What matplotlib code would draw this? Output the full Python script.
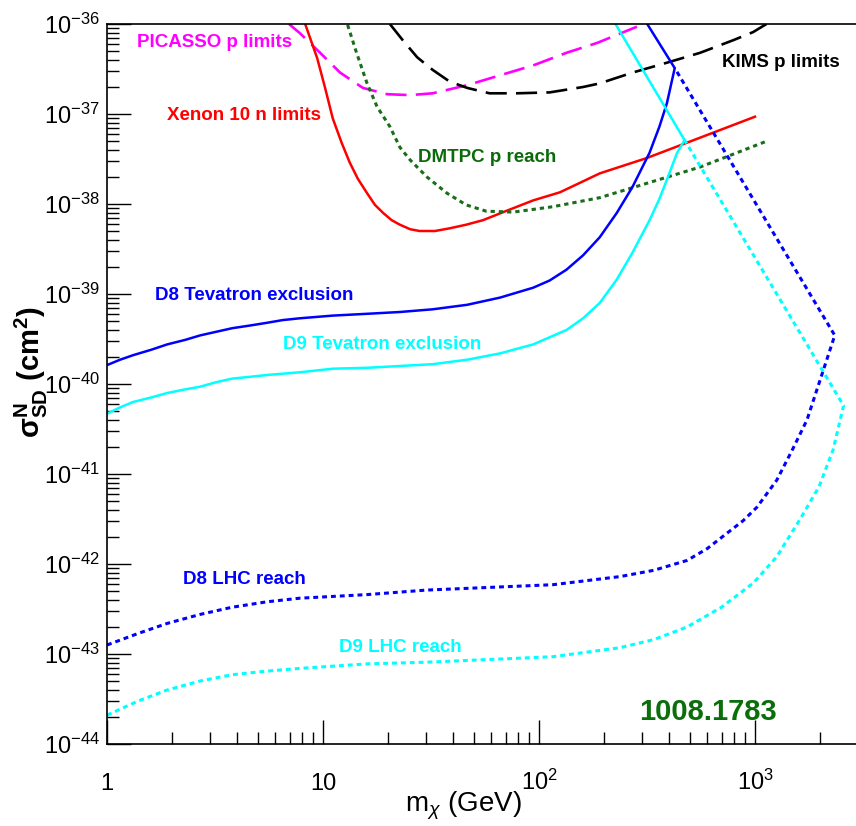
import numpy as np
import matplotlib
matplotlib.use("Agg")
import matplotlib.pyplot as plt
from matplotlib import font_manager
from matplotlib.ticker import FixedLocator, LogLocator, NullFormatter

# mass in GeV, cross sections stored as log10(sigma / cm^2)
picasso_m = [6.96, 7.8, 9.7, 12.0, 15.3, 19.8, 25.3, 32.2, 46.5, 66, 94, 134, 186, 284]
picasso_s = [-36.0, -36.1, -36.32, -36.54, -36.71, -36.78, -36.79, -36.77, -36.68, -36.57, -36.46, -36.32, -36.21, -36.03]

kims_m = [20.4, 23.4, 27.3, 32.2, 38.6, 46.5, 59, 79, 112, 160, 191, 271, 391, 557, 793, 980, 1130]
kims_s = [-36.0, -36.18, -36.37, -36.51, -36.64, -36.71, -36.77, -36.77, -36.76, -36.7, -36.66, -36.54, -36.43, -36.32, -36.18, -36.09, -36.0]

xenon_m = [8.27, 9.4, 10.2, 11.1, 12.2, 13.3, 14.5, 16, 17.4, 19, 20.8, 22.7, 25.3, 28, 33, 38.6, 46, 55, 70, 94, 125, 150, 191, 315, 1000]
xenon_s = [-36.0, -36.38, -36.7, -37.05, -37.32, -37.54, -37.72, -37.88, -38.01, -38.1, -38.18, -38.23, -38.28, -38.3, -38.3, -38.27, -38.23, -38.18, -38.08, -37.96, -37.87, -37.78, -37.66, -37.49, -37.03]

dmtpc_m = [13.0, 14.3, 16, 17.8, 20.4, 22.7, 25.3, 30.3, 37.5, 46, 57, 76, 116, 191, 556, 1110]
dmtpc_s = [-36.01, -36.32, -36.66, -36.92, -37.14, -37.37, -37.51, -37.7, -37.88, -38.01, -38.08, -38.09, -38.03, -37.93, -37.59, -37.31]

d8_tev_m = [1, 1.15, 1.32, 1.6, 1.9, 2.3, 2.7, 3.2, 3.8, 4.6, 5.5, 6.5, 7.8, 11.1, 16, 22.7, 32.2, 46.5, 66, 94, 112, 134, 160, 191, 229, 271, 325, 361, 391, 425, 317]
d8_tev_s = [-39.79, -39.73, -39.68, -39.62, -39.56, -39.51, -39.46, -39.42, -39.38, -39.35, -39.32, -39.29, -39.27, -39.24, -39.22, -39.2, -39.17, -39.12, -39.04, -38.93, -38.85, -38.73, -38.57, -38.37, -38.1, -37.81, -37.43, -37.14, -36.88, -36.49, -36.0]

d9_tev_m = [1, 1.15, 1.32, 1.6, 1.9, 2.3, 2.7, 3.2, 3.8, 4.6, 5.5, 7.8, 11.1, 16, 22.7, 32.2, 46.5, 66, 94, 134, 160, 191, 229, 271, 325, 360, 391, 436, 472, 226]
d9_tev_s = [-40.33, -40.26, -40.2, -40.15, -40.1, -40.06, -40.03, -39.98, -39.94, -39.92, -39.9, -39.87, -39.83, -39.82, -39.8, -39.78, -39.73, -39.66, -39.56, -39.4, -39.27, -39.1, -38.84, -38.54, -38.18, -37.95, -37.73, -37.43, -37.29, -36.0]

d8_lhc_m = [1, 1.4, 1.9, 2.7, 3.8, 5.5, 7.8, 16, 30, 116, 237, 340, 485, 600, 740, 880, 1020, 1260, 1490, 1740, 2050, 2340, 425]
d8_lhc_s = [-42.9, -42.77, -42.66, -42.56, -42.48, -42.42, -42.38, -42.34, -42.29, -42.23, -42.14, -42.07, -41.96, -41.83, -41.66, -41.52, -41.37, -41.07, -40.73, -40.4, -39.88, -39.46, -36.49]

d9_lhc_m = [1, 1.4, 1.9, 2.7, 3.8, 5.5, 7.8, 16, 31, 116, 237, 340, 485, 700, 984, 1260, 1610, 1980, 2300, 2570, 472]
d9_lhc_s = [-43.68, -43.52, -43.4, -43.3, -43.23, -43.19, -43.16, -43.11, -43.09, -43.03, -42.93, -42.84, -42.7, -42.48, -42.21, -41.92, -41.51, -41.14, -40.73, -40.24, -37.29]

y_decades = [-44, -43, -42, -41, -40, -39, -38, -37, -36]

names = {f.name for f in font_manager.fontManager.ttflist}
narrow = 'Liberation Sans Narrow' in names
base = 'Liberation Sans Narrow' if narrow else 'Liberation Sans'
plt.rcParams['font.family'] = [base, 'DejaVu Sans']
plt.rcParams['mathtext.fontset'] = 'custom'
plt.rcParams['mathtext.rm'] = base
plt.rcParams['mathtext.it'] = base + ':italic'
plt.rcParams['mathtext.bf'] = base + ':bold'
tick_fs = 21 if narrow else 17
lab_fs = 16.5 if narrow else 13.5

fig = plt.figure(figsize=(8.56, 8.26), dpi=100)
ax = fig.add_axes([107/856, 82/826, 749/856, 720/826])

def sig(v):
    return 10.0 ** np.array(v, dtype=float)

green = '#1a6e1a'
ax.plot(picasso_m, sig(picasso_s), color='#ff00ff', lw=1.9, ls=(0, (8, 3.5)))
ax.plot(kims_m, sig(kims_s), color='black', lw=1.9, ls=(0, (8, 3.5)))
ax.plot(xenon_m, sig(xenon_s), color='#ff0000', lw=1.8)
ax.plot(dmtpc_m, sig(dmtpc_s), color=green, lw=2.2, ls=(0, (1.4, 1.3)))
ax.plot(d8_tev_m, sig(d8_tev_s), color='#0000ff', lw=1.8)
ax.plot(d9_tev_m, sig(d9_tev_s), color='#00ffff', lw=1.8)
ax.plot(d8_lhc_m, sig(d8_lhc_s), color='#0000ff', lw=2.2, ls=(0, (1.6, 1.3)))
ax.plot(d9_lhc_m, sig(d9_lhc_s), color='#00ffff', lw=2.2, ls=(0, (1.6, 1.3)))

ax.set_xscale('log')
ax.set_yscale('log')
ax.set_xlim(1, 2935)
ax.set_ylim(1e-44, 1e-36)

ax.xaxis.set_major_locator(FixedLocator([1, 10, 100, 1000]))
ax.set_xticklabels(['1', '10', r'$10^{2}$', r'$10^{3}$'])
ax.xaxis.set_minor_locator(LogLocator(base=10, subs=np.arange(2, 10), numticks=20))
ax.xaxis.set_minor_formatter(NullFormatter())
ax.yaxis.set_major_locator(FixedLocator(sig(y_decades)))
ax.set_yticklabels([r'$10^{%d}$' % d for d in y_decades])
ax.yaxis.set_minor_locator(LogLocator(base=10, subs=np.arange(2, 10), numticks=100))
ax.yaxis.set_minor_formatter(NullFormatter())

ax.tick_params(which='both', direction='in', top=False, right=False, width=1.0, colors='black')
ax.tick_params(which='major', length=17)
ax.tick_params(which='minor', length=8.6)
ax.tick_params(axis='y', which='major', pad=5, labelsize=tick_fs)
ax.tick_params(axis='x', which='major', pad=33, labelsize=tick_fs)
for lab in ax.get_xticklabels():
    lab.set_verticalalignment('baseline')

for side in ['left', 'bottom', 'top']:
    ax.spines[side].set_linewidth(1.2)
ax.spines['right'].set_visible(False)

fig.text(522/856, 14/826, r'm$_\chi$ (GeV)', ha='right', va='baseline', fontsize=20)
fig.text(31/856, (826-372)/826, r'$\mathbf{\sigma^{N}_{SD}}$ $\mathbf{(cm^{2})}$',
         rotation=90, ha='center', va='center', fontsize=21)

kw = dict(ha='left', va='center', fontsize=lab_fs, fontweight='bold')
ax.text(1.38, 10**-36.2, 'PICASSO p limits', color='#ff00ff', **kw)
ax.text(1.9, 10**-37.02, 'Xenon 10 n limits', color='#ff0000', **kw)
ax.text(27.5, 10**-37.48, 'DMTPC p reach', color='#0b6b0b', **kw)
ax.text(707, 10**-36.43, 'KIMS p limits', color='black', **kw)
ax.text(1.67, 10**-39.02, 'D8 Tevatron exclusion', color='#0000ff', **kw)
ax.text(6.5, 10**-39.56, 'D9 Tevatron exclusion', color='#00ffff', **kw)
ax.text(2.25, 10**-42.17, 'D8 LHC reach', color='#0000ff', **kw)
ax.text(11.9, 10**-42.93, 'D9 LHC reach', color='#00ffff', **kw)
ax.text(291, 10**-43.64, '1008.1783', color='#0a6e0a', ha='left', va='center',
        fontsize=21, fontweight='bold', family=['Liberation Sans', 'DejaVu Sans'])

fig.savefig('out.png', dpi=100, facecolor='white')
